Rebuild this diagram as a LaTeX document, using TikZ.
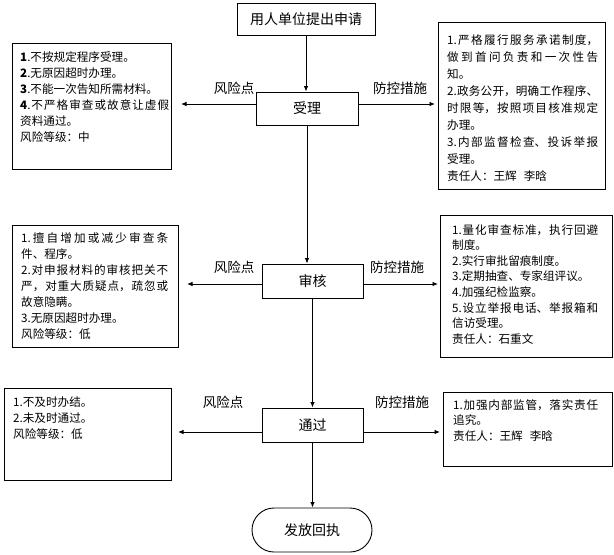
\documentclass[tikz,border=0pt]{standalone}
\usepackage{fontspec}
\newfontfamily\cjk{Noto Sans CJK SC}
\usetikzlibrary{arrows.meta}
\XeTeXlinebreaklocale "zh"
\XeTeXlinebreakskip=0pt plus 3pt
\tolerance=9999
\hbadness=10000
\begin{document}
\begin{tikzpicture}[x=1pt,y=-1pt,
  box/.style={draw,line width=0.9pt,inner sep=0pt,anchor=north west},
  txt/.style={inner sep=0pt,anchor=north west,align=justify,text width=#1},
  bodyA/.style={font=\cjk\fontsize{11.6}{16}\selectfont},
  bodyB/.style={font=\cjk\fontsize{11.6}{17}\selectfont},
  bodyC/.style={font=\cjk\fontsize{11.6}{15.6}\selectfont},
  flow/.style={draw,line width=0.9pt,inner sep=0pt,font=\cjk\fontsize{14}{16}\selectfont},
  lbl/.style={inner sep=0pt,font=\cjk\fontsize{13.5}{16}\selectfont},
  arr/.style={-{Latex[length=5.5pt,width=4.5pt]},line width=0.9pt}
]
\useasboundingbox (0,0) rectangle (614,555);

% main flow
\node[flow,minimum width=138pt,minimum height=32pt] (apply) at (306,19) {用人单位提出申请};
\node[flow,minimum width=102pt,minimum height=33pt] (accept) at (307,108.5) {受理};
\node[flow,minimum width=101pt,minimum height=34pt] (review) at (312.5,281) {审核};
\node[flow,minimum width=101pt,minimum height=34pt] (pass) at (312.5,425) {通过};
\node[flow,rounded corners=22pt,minimum width=120pt,minimum height=44pt] (issue) at (312,530) {发放回执};

\draw[arr] (apply.south) -- (apply.south |- accept.north);
\draw[arr] (accept.south) -- (accept.south |- review.north);
\draw[arr] (review.south) -- (review.south |- pass.north);
\draw[arr] (pass.south) -- (pass.south |- issue.north);

% side arrows
\coordinate (aL) at (181,104); \coordinate (aR) at (435,104);
\coordinate (rL) at (187,284); \coordinate (rR) at (438,284);
\coordinate (pL) at (178,432); \coordinate (pR) at (440,432);
\draw[arr] (accept.west |- aL) -- (aL);
\draw[arr] (accept.east |- aR) -- (aR);
\draw[arr] (review.west |- rL) -- (rL);
\draw[arr] (review.east |- rR) -- (rR);
\draw[arr] (pass.west |- pL) -- (pL);
\draw[arr] (pass.east |- pR) -- (pR);

% labels
\node[lbl] (aRisk) at (234,88) {风险点};
\node[lbl] (aCtrl) at (400,88) {防控措施};
\node[lbl] (rRisk) at (234,267) {风险点};
\node[lbl] (rCtrl) at (397,267) {防控措施};
\node[lbl] (pRisk) at (223,402) {风险点};
\node[lbl] (pCtrl) at (402,402) {防控措施};

% side boxes
\node[box,minimum width=159pt,minimum height=126pt] (L1) at (12,43) {};
\node[txt=149pt,bodyA] (L1t) at (20,51) {%
{\bfseries 1}.不按规定程序受理。\par
{\bfseries 2}.无原因超时办理。\par
{\bfseries 3}.不能一次告知所需材料。\par
{\bfseries 4}.不严格审查或故意让虚假\linebreak 资料通过。\par
风险等级：中};

\node[box,minimum width=167pt,minimum height=167pt] (R1) at (438,22) {};
\node[txt=151pt,bodyB] (R1t) at (447,34) {%
1.严格履行服务承诺制度，\linebreak 做到首问负责和一次性告\linebreak 知。\par
2.政务公开，明确工作程序、\linebreak 时限等，按照项目核准规定\linebreak 办理。\par
3.内部监督检查、投诉举报\linebreak 受理。\par
责任人：王辉\hspace{0.6em}李晗};

\node[box,minimum width=166pt,minimum height=122pt] (L2) at (12,225) {};
\node[txt=147pt,bodyA] (L2t) at (21,232) {%
1.擅自增加或减少审查条\linebreak 件、程序。\par
2.对申报材料的审核把关不\linebreak 严，对重大质疑点，疏忽或\linebreak 故意隐瞒。\par
3.无原因超时办理。\par
风险等级：低};

\node[box,minimum width=172pt,minimum height=142pt] (R2) at (440,215) {};
\node[txt=146pt,bodyC] (R2t) at (452,224) {%
1.量化审查标准，执行回避\linebreak 制度。\par
2.实行审批留痕制度。\par
3.定期抽查、专家组评议。\par
4.加强纪检监察。\par
5.设立举报电话、举报箱和\linebreak 信访受理。\par
责任人：石重文};

\node[box,minimum width=167pt,minimum height=92pt] (L3) at (4,388) {};
\node[txt=150pt,bodyC] (L3t) at (13,397) {%
1.不及时办结。\par
2.未及时通过。\par
风险等级：低};

\node[box,minimum width=169pt,minimum height=74pt] (R3) at (443,392) {};
\node[txt=145pt,bodyC] (R3t) at (453,399) {%
1.加强内部监管，落实责任\linebreak 追究。\par
责任人：王辉\hspace{0.6em}李晗};
\end{tikzpicture}
\end{document}
